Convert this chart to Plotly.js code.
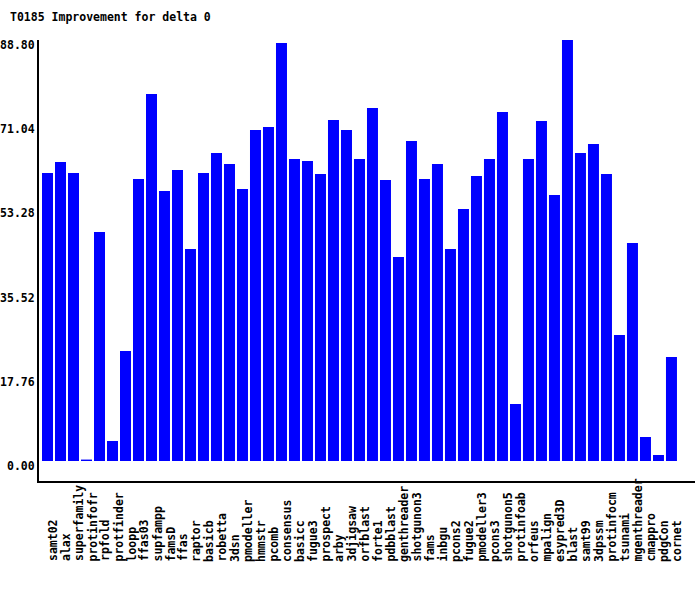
<!DOCTYPE html>
<html><head><meta charset="utf-8">
<script src="https://cdn.plot.ly/plotly-3.0.1.min.js"></script>
<style>html,body{margin:0;padding:0;background:#fff}</style>
</head><body><div id="chart" style="width:700px;height:590px"></div>
<script>
const chartTitle = "T0185 Improvement for delta 0";
const methods = ["samt02","alax","superfamily","protinfofr","rpfold","protfinder","loopp","ffas03","supfampp","famsD","ffas","raptor","basicb","robetta","3dsn","pmodeller","hmmstr","pcomb","consensus","basicc","fugue3","prospect","arby","3djigsaw","orfblast","forte1","pdbblast","genthreader","shotgunon3","fams","inbgu","pcons2","fugue2","pmodeller3","pcons3","shotgunon5","protinfoab","orfeus","mpalign","esypred3D","blast","samt99","3dpssm","protinfocm","tsunami","mgenthreader","cmappro","pdgCon","cornet"];
const improvement = [60.75,63.07,60.75,0.3,48.30,4.22,23.20,59.48,77.41,56.95,61.38,44.72,60.75,64.97,62.64,57.37,69.82,70.45,88.17,63.70,63.28,60.54,71.93,69.82,63.70,74.46,59.27,43.03,67.50,59.48,62.64,44.72,53.15,60.11,63.70,73.61,12.02,63.70,71.72,56.11,88.80,64.97,66.86,60.54,26.58,45.98,5.06,1.27,21.94];
const yTickVals = [0,17.76,35.52,53.28,71.04,88.80];
const yTickText = ["0.00","17.76","35.52","53.28","71.04","88.80"];

const idx = methods.map((m,i)=>i);
const fnt = {family:"DejaVu Sans Mono", size:11.5, color:"#000", weight:"bold"};

const annotations = methods.map((m,i)=>({
  text: m, x: i, xref:'x', y: -0.178, yref:'paper',
  xanchor:'center', yanchor:'bottom', textangle:-90, showarrow:false,
  xshift: 6, yshift: -4, font: fnt
}));

const data = [{
  type:'bar', x: idx, y: improvement, width: 0.846,
  marker:{color:'#0000ff', line:{width:0}},
  hoverinfo:'skip'
}];

const layout = {
  width:700, height:590,
  margin:{l:39, r:5, t:40, b:109},
  paper_bgcolor:'#fff', plot_bgcolor:'#fff',
  showlegend:false,
  title:{text: chartTitle, font: fnt, xref:'container', x: 10/700, xanchor:'left', yref:'container', y: 1-17/590, yanchor:'middle'},
  xaxis:{range:[-0.654, 49.81], showgrid:false, zeroline:false, showticklabels:false, ticks:'',
         showline:true, linecolor:'#000', linewidth:2, fixedrange:true},
  yaxis:{range:[-4.22, 88.8], showgrid:false, zeroline:false, ticks:'',
         tickvals: yTickVals, ticktext: yTickText, tickfont: fnt,
         ticklabelshift:5, ticklabelstandoff:0,
         showline:true, linecolor:'#000', linewidth:2, fixedrange:true},
  annotations: annotations
};
Plotly.newPlot('chart', data, layout, {staticPlot:true});
</script></body></html>
